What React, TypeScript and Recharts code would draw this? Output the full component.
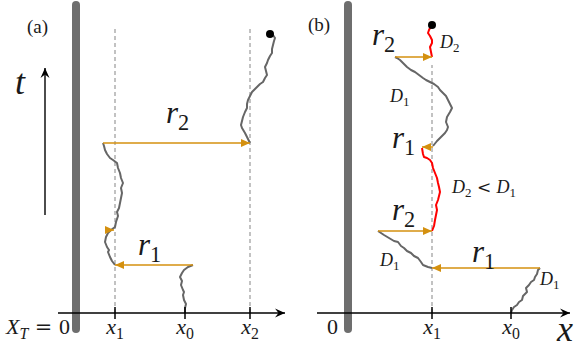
import React from 'react';
import { ComposedChart, Line, Scatter, XAxis, YAxis } from 'recharts';

// units: x = distance from the wall (X_T = 0), t = time above the x axis
type Pair = [number, number];
type Arrow = { from: Pair; to: Pair };
type Label = { x: number; t: number; tex: string; kind: string; rm?: boolean; mid?: boolean };

// ---------- panel (a) ----------
const aTicks = { x1: 3.9, x0: 10.9, x2: 17.4 };
const aDashed = [aTicks.x1, aTicks.x2];
const aTop = 28.6;

const aWalk1: Pair[] = [
  [10.9, 0], [10.9, 0.5], [11.0, 0.9], [10.8, 1.3], [10.7, 1.8], [10.8, 2.1], [10.7, 2.3], [10.5, 2.8],
  [10.6, 3.2], [10.4, 3.6], [10.6, 4.0], [10.8, 4.3], [11.2, 4.6], [11.7, 4.8],
];
const aWalk2: Pair[] = [
  [3.9, 4.8], [3.6, 5.2], [3.4, 5.6], [3.2, 6.1], [3.3, 6.3], [3.1, 6.6], [2.9, 7.1], [3.0, 7.6], [3.2, 8.0],
  [3.5, 8.3], [3.9, 8.6], [4.0, 9.1], [4.2, 9.7], [4.1, 10.1], [4.3, 10.5], [4.4, 11.0], [4.5, 11.5],
  [4.6, 12.0], [4.5, 12.5], [4.7, 13.0], [4.5, 13.5], [4.4, 14.0], [4.2, 14.5], [4.1, 15.0],
  [3.7, 15.3], [3.4, 15.5], [3.1, 15.9], [2.9, 16.3], [2.8, 16.7], [2.7, 17.0],
];
const aWalk3: Pair[] = [
  [17.4, 17.0], [17.1, 17.6], [16.9, 18.0], [16.6, 18.5], [16.5, 18.8], [16.6, 19.2], [16.7, 19.6],
  [16.9, 20.1], [17.1, 20.5], [17.1, 20.9], [17.2, 21.3], [17.4, 21.7], [17.6, 22.1], [17.9, 22.4],
  [18.1, 22.6], [18.4, 22.9], [18.7, 23.1], [18.9, 23.5], [19.1, 23.8], [19.0, 24.2], [18.9, 24.6],
  [19.1, 25.0], [19.2, 25.3], [19.4, 25.7], [19.6, 26.0], [19.6, 26.4], [19.7, 26.8], [19.8, 27.2],
  [19.9, 27.5], [19.7, 27.8], [19.5, 27.9],
];
const aEnd: Pair = [19.4, 27.9];
const aJumps: Arrow[] = [
  { from: [11.7, 4.8], to: [3.9, 4.8] },
  { from: [3.0, 8.3], to: [3.8, 8.3] },
  { from: [2.7, 17.0], to: [17.4, 17.0] },
];
const aAxis: Pair[] = [[-1.8, 0], [20.9, 0]];
const aTimeArrow: Pair[] = [[-3.1, 9.8], [-3.1, 24.5]];
const aLabels: Label[] = [
  { x: -4.9, t: 28.0, tex: '(a)', kind: 'tag', rm: true },
  { x: -6.1, t: 21.9, tex: 't', kind: 'huge' },
  { x: 9.0, t: 19.0, tex: 'r_2', kind: 'big' },
  { x: 6.2, t: 5.8, tex: 'r_1', kind: 'big' },
  { x: -7.0, t: -2.1, tex: 'X_T~=~0', kind: 'axis' },
  { x: aTicks.x1, t: -2.1, tex: 'x_1', kind: 'axis', mid: true },
  { x: aTicks.x0, t: -2.1, tex: 'x_0', kind: 'axis', mid: true },
  { x: aTicks.x2, t: -2.1, tex: 'x_2', kind: 'axis', mid: true },
];

// ---------- panel (b) ----------
const bTicks = { x1: 8.4, x0: 16.3 };
const bDashed = [bTicks.x1];
const bTop = 24.8;

const bWalk1: Pair[] = [
  [16.3, 0], [16.4, 0.3], [16.6, 0.6], [16.9, 0.8], [17.1, 1.1], [17.4, 1.3], [17.5, 1.7], [17.9, 2.1],
  [17.8, 2.5], [18.1, 2.8], [18.3, 3.1], [18.6, 3.3], [18.7, 3.6], [18.9, 3.9], [19.0, 4.3], [19.2, 4.5],
];
const bWalk2: Pair[] = [
  [8.4, 4.5], [8.0, 4.6], [7.5, 4.8], [7.3, 5.1], [7.0, 5.5], [6.6, 5.7], [6.3, 6.0], [5.9, 6.2],
  [5.6, 6.5], [5.3, 6.7], [5.0, 7.1], [4.6, 7.2], [4.1, 7.5], [3.6, 7.8], [3.0, 8.2],
];
const bWalk3: Pair[] = [
  [8.4, 8.2], [8.6, 8.7], [8.7, 9.3], [8.8, 9.8], [8.9, 10.3], [8.8, 10.8], [9.0, 11.3], [9.1, 11.7],
  [9.2, 12.1], [9.1, 12.6], [9.0, 13.0], [8.9, 13.5], [8.7, 14.0], [8.5, 14.5], [8.4, 15.0],
  [8.2, 15.3], [7.9, 15.5], [7.6, 15.6], [7.5, 15.9], [7.4, 16.5],
];
const bWalk4: Pair[] = [
  [8.5, 16.7], [8.9, 17.2], [9.2, 17.5], [9.5, 17.8], [9.7, 18.0], [9.9, 18.3], [10.0, 18.6],
  [9.8, 19.1], [9.9, 19.6], [10.2, 20.1], [10.4, 20.5], [10.2, 20.9], [10.0, 21.3], [9.8, 21.7],
  [9.5, 22.0], [9.2, 22.3], [9.0, 22.6], [8.6, 22.9], [8.2, 23.1], [7.8, 23.3], [7.5, 23.5],
  [7.1, 23.8], [6.7, 24.1], [6.3, 24.3], [5.9, 24.6], [5.5, 25.0], [5.2, 25.3], [4.9, 25.5], [4.7, 25.6],
];
const bWalk5: Pair[] = [
  [8.4, 25.6], [8.3, 26.1], [8.2, 26.6], [8.4, 27.0], [8.4, 27.3], [8.2, 27.7], [8.0, 28.0],
  [8.1, 28.3], [8.2, 28.5], [8.4, 28.7],
];
const bEnd: Pair = [8.4, 28.8];
const bJumps: Arrow[] = [
  { from: [19.2, 4.5], to: [8.4, 4.5] },
  { from: [3.0, 8.2], to: [8.4, 8.2] },
  { from: [8.5, 16.6], to: [7.4, 16.6] },
  { from: [4.7, 25.6], to: [8.4, 25.6] },
];
const bAxis: Pair[] = [[-3.1, 0], [22.2, 0]];
const bLabels: Label[] = [
  { x: -4.0, t: 28.2, tex: '(b)', kind: 'tag', rm: true },
  { x: 2.4, t: 26.8, tex: 'r_2', kind: 'big' },
  { x: 9.2, t: 26.5, tex: 'D_2', kind: 'small' },
  { x: 4.2, t: 21.1, tex: 'D_1', kind: 'small' },
  { x: 4.4, t: 16.5, tex: 'r_1', kind: 'big' },
  { x: 10.4, t: 12.0, tex: 'D_2~<~D_1', kind: 'small' },
  { x: 4.4, t: 9.3, tex: 'r_2', kind: 'big' },
  { x: 3.2, t: 4.7, tex: 'D_1', kind: 'small' },
  { x: 12.4, t: 5.1, tex: 'r_1', kind: 'big' },
  { x: 19.2, t: 2.8, tex: 'D_1', kind: 'small' },
  { x: -2.1, t: -2.1, tex: '0', kind: 'axis' },
  { x: bTicks.x1, t: -2.1, tex: 'x_1', kind: 'axis', mid: true },
  { x: bTicks.x0, t: -2.1, tex: 'x_0', kind: 'axis', mid: true },
  { x: 20.9, t: -2.8, tex: 'x', kind: 'huge' },
];

const FONT = "'Liberation Serif', 'DejaVu Serif', serif";
const SYM_FONT = "'DejaVu Serif', serif";
const SIZES: Record<string, number> = { tag: 19, huge: 36, big: 31, axis: 22, small: 18 };
const ORANGE = '#d4900f';
const WALK = '#666666';
const RED = '#ff0000';

const toData = (pairs: Pair[]) => pairs.map(([x, t]) => ({ x, t }));

// tiny TeX-ish text: letters italic, digits upright, "=" "<" as math symbols,
// "_" = subscript, "~" = gap
function TexText({ cx, cy, payload }: any) {
  const size = SIZES[payload.kind];
  type G = { text: string; sub: boolean; it: boolean; sym: boolean; dx: number };
  const groups: G[] = [];
  const s: string = payload.tex;
  let gap = 0;
  for (let i = 0; i < s.length; i++) {
    if (s[i] === '~') { gap += size * 0.3; continue; }
    let sub = false;
    if (s[i] === '_') { sub = true; i++; }
    const ch = s[i];
    const it = !payload.rm && /[A-Za-z]/.test(ch);
    const sym = ch === '=' || ch === '<';
    const g = groups[groups.length - 1];
    if (g && !sym && !g.sym && g.sub === sub && g.it === it && gap === 0) g.text += ch;
    else groups.push({ text: ch, sub, it, sym, dx: gap });
    gap = 0;
  }
  let inSub = false;
  return (
    <text x={cx} y={cy} fontSize={size} fill="#1a1a1a"
      textAnchor={payload.mid ? 'middle' : 'start'} style={{ fontFamily: FONT }}>
      {groups.map((g, i) => {
        let dy = 0;
        if (g.sub && !inSub) dy = size * 0.24;
        if (!g.sub && inSub) dy = -size * 0.24;
        inSub = g.sub;
        return (
          <tspan key={i} dy={dy} dx={g.dx}
            style={{
              fontFamily: g.sym ? SYM_FONT : FONT,
              fontSize: g.sub ? size * 0.72 : g.sym ? size * 0.95 : size,
              fontStyle: g.it ? 'italic' : 'normal',
            }}>
            {g.text}
          </tspan>
        );
      })}
    </text>
  );
}

function Head({ cx, cy, payload }: any) {
  const rot = payload.dir === 'l' ? 180 : payload.dir === 'u' ? -90 : 0;
  const d = payload.stealth
    ? 'M0,0 L-10,-4.5 L-6.5,0 L-10,4.5 Z'
    : 'M0,0 L-9,-4 L-9,4 Z';
  return <path d={d} fill={payload.color} transform={`translate(${cx},${cy}) rotate(${rot})`} />;
}

const dirOf = (a: Pair, b: Pair) =>
  b[0] > a[0] + 1e-9 ? 'r' : b[0] < a[0] - 1e-9 ? 'l' : 'u';

function path(key: string, pairs: Pair[], stroke: string, width: number, extra: any = {}) {
  return (
    <Line key={key} data={toData(pairs)} dataKey="t" stroke={stroke} strokeWidth={width}
      dot={false} activeDot={false} isAnimationActive={false} strokeLinejoin="round"
      legendType="none" {...extra} />
  );
}

function heads(key: string, arrows: Arrow[], color: string, stealth = false) {
  const data = arrows.map(a => ({ x: a.to[0], t: a.to[1], dir: dirOf(a.from, a.to), color, stealth }));
  return <Scatter key={key} data={data} shape={Head} isAnimationActive={false} legendType="none" />;
}

function Panel({ xDomain, ticks, dashed, top, walks, reds, jumps, end, axis, timeArrow, labels }: any) {
  const tickVals: number[] = Object.values(ticks);
  return (
    <ComposedChart width={290} height={349} margin={{ top: 0, right: 0, bottom: 0, left: 0 }}>
      <XAxis type="number" dataKey="x" domain={xDomain} allowDataOverflow hide />
      <YAxis type="number" dataKey="t" domain={[-3.6, 31.3]} allowDataOverflow hide />
      {path('wall', [[0, -1.6], [0, 30.8]], '#6e6e6e', 8, { strokeLinecap: 'round' })}
      {dashed.map((v: number, i: number) =>
        path('dash' + i, [[v, 0], [v, top]], '#9a9a9a', 1.2, { strokeDasharray: '4 3' }))}
      {walks.map((w: Pair[], i: number) => path('walk' + i, w, WALK, 2))}
      {reds.map((w: Pair[], i: number) => path('red' + i, w, RED, 2))}
      {jumps.map((a: Arrow, i: number) => path('jump' + i, [a.from, a.to], ORANGE, 1.5))}
      {heads('jumpHeads', jumps, ORANGE)}
      {path('axis', axis, '#000', 1.4)}
      {tickVals.map((v, i) => path('tick' + i, [[v, -0.6], [v, 0.6]], '#000', 1.5))}
      {heads('axisHead', [{ from: axis[0], to: axis[1] }], '#000', true)}
      {timeArrow && path('tarrow', timeArrow, '#000', 1.4)}
      {timeArrow && heads('tHead', [{ from: timeArrow[0], to: timeArrow[1] }], '#000', true)}
      <Scatter data={[{ x: end[0], t: end[1] }]} isAnimationActive={false} legendType="none"
        shape={(p: any) => <circle cx={p.cx} cy={p.cy} r={4} fill="#000" />} />
      <Scatter data={labels} shape={TexText} isAnimationActive={false} legendType="none" />
    </ComposedChart>
  );
}

export default function App() {
  return (
    <div style={{ position: 'absolute', left: 0, top: 0, width: 580, height: 349, background: '#fff' }}>
      <div style={{ position: 'absolute', left: 0, top: 0 }}>
        <Panel xDomain={[-7.6, 21.4]} ticks={aTicks} dashed={aDashed} top={aTop}
          walks={[aWalk1, aWalk2, aWalk3]} reds={[]} jumps={aJumps} end={aEnd} axis={aAxis}
          timeArrow={aTimeArrow} labels={aLabels} />
      </div>
      <div style={{ position: 'absolute', left: 290, top: 0 }}>
        <Panel xDomain={[-5.8, 23.2]} ticks={bTicks} dashed={bDashed} top={bTop}
          walks={[bWalk1, bWalk2, bWalk4]} reds={[bWalk3, bWalk5]} jumps={bJumps} end={bEnd}
          axis={bAxis} timeArrow={null} labels={bLabels} />
      </div>
    </div>
  );
}
